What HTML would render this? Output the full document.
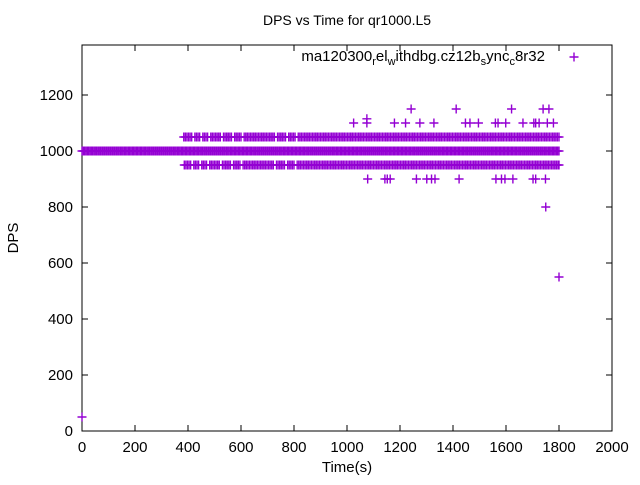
<!DOCTYPE html>
<html><head><meta charset="utf-8"><style>
body{margin:0;background:#fff}
svg text{font-family:"Liberation Sans",sans-serif;fill:#000}
</style></head><body>
<svg id="chart" width="640" height="480" viewBox="0 0 640 480" xmlns="http://www.w3.org/2000/svg">
<rect width="640" height="480" fill="#fff"/>
<text x="347" y="25" font-size="14" text-anchor="middle">DPS vs Time for qr1000.L5</text>
<text x="347" y="472" font-size="15" text-anchor="middle">Time(s)</text>
<text x="18" y="238" font-size="15" text-anchor="middle" transform="rotate(-90 18 238)">DPS</text>
<g id="axes"></g>
<g id="marks"></g>
<text x="545" y="61" font-size="15" text-anchor="end">ma120300<tspan font-size="11" dy="4">r</tspan><tspan dy="-4">el</tspan><tspan font-size="11" dy="4">w</tspan><tspan dy="-4">ithdbg.cz12b</tspan><tspan font-size="11" dy="4">s</tspan><tspan dy="-4">ync</tspan><tspan font-size="11" dy="4">c</tspan><tspan dy="-4">8r32</tspan></text>
</svg>
<script>
const xTicks=[0,200,400,600,800,1000,1200,1400,1600,1800,2000];
const yTicks=[0,200,400,600,800,1000,1200];
const mainX=[0,5,10,15,20,25,30,35,40,45,50,55,60,65,70,75,80,85,90,95,100,105,110,115,120,125,130,135,140,145,150,155,160,165,170,175,180,185,190,195,200,205,210,215,220,225,230,235,240,245,250,255,260,265,270,275,280,285,290,295,300,305,310,315,320,325,330,335,340,345,350,355,360,365,370,375,380,385,390,395,400,405,410,415,420,425,430,435,440,445,450,455,460,465,470,475,480,485,490,495,500,505,510,515,520,525,530,535,540,545,550,555,560,565,570,575,580,585,590,595,600,605,610,615,620,625,630,635,640,645,650,655,660,665,670,675,680,685,690,695,700,705,710,715,720,725,730,735,740,745,750,755,760,765,770,775,780,785,790,795,800,805,810,815,820,825,830,835,840,845,850,855,860,865,870,875,880,885,890,895,900,905,910,915,920,925,930,935,940,945,950,955,960,965,970,975,980,985,990,995,1000,1005,1010,1015,1020,1025,1030,1035,1040,1045,1050,1055,1060,1065,1070,1075,1080,1085,1090,1095,1100,1105,1110,1115,1120,1125,1130,1135,1140,1145,1150,1155,1160,1165,1170,1175,1180,1185,1190,1195,1200,1205,1210,1215,1220,1225,1230,1235,1240,1245,1250,1255,1260,1265,1270,1275,1280,1285,1290,1295,1300,1305,1310,1315,1320,1325,1330,1335,1340,1345,1350,1355,1360,1365,1370,1375,1380,1385,1390,1395,1400,1405,1410,1415,1420,1425,1430,1435,1440,1445,1450,1455,1460,1465,1470,1475,1480,1485,1490,1495,1500,1505,1510,1515,1520,1525,1530,1535,1540,1545,1550,1555,1560,1565,1570,1575,1580,1585,1590,1595,1600,1605,1610,1615,1620,1625,1630,1635,1640,1645,1650,1655,1660,1665,1670,1675,1680,1685,1690,1695,1700,1705,1710,1715,1720,1725,1730,1735,1740,1745,1750,1755,1760,1765,1770,1775,1780,1785,1790,1795,1800];
const mainY=1000;
const hiX=[384,390,396,402,408,414,426,432,438,444,456,462,468,474,486,492,498,504,510,516,522,534,540,546,552,558,564,576,582,588,594,600,612,618,624,630,636,642,648,654,660,666,672,678,684,690,696,702,708,714,720,726,738,744,750,756,762,768,780,786,792,798,804,816,822,828,834,840,846,852,858,864,870,876,882,888,894,900,906,912,918,924,930,936,942,948,954,960,966,972,978,984,990,996,1002,1008,1014,1020,1026,1032,1038,1044,1050,1056,1062,1068,1074,1080,1086,1092,1098,1104,1110,1116,1122,1128,1134,1140,1146,1152,1158,1164,1170,1176,1182,1188,1194,1200,1206,1212,1218,1224,1230,1236,1242,1248,1254,1260,1266,1272,1278,1284,1290,1296,1302,1308,1314,1320,1326,1332,1338,1344,1350,1356,1362,1368,1374,1380,1386,1392,1398,1404,1410,1416,1422,1428,1434,1440,1446,1452,1458,1464,1470,1476,1482,1488,1494,1500,1506,1512,1518,1524,1530,1536,1542,1548,1554,1560,1566,1572,1578,1584,1590,1596,1602,1608,1614,1620,1626,1632,1638,1644,1650,1656,1662,1668,1674,1680,1686,1692,1698,1704,1710,1716,1722,1728,1734,1740,1746,1752,1758,1764,1770,1776,1782,1788,1794,1800];
const hiY=1050;
const loX=[386,392,398,404,410,422,428,434,440,452,458,464,470,482,488,494,500,506,512,518,530,536,542,548,554,560,572,578,584,590,596,608,614,620,626,632,638,644,650,656,662,668,674,680,686,692,698,704,710,716,722,734,740,746,752,758,764,776,782,788,794,800,812,818,824,830,836,842,848,854,860,866,872,878,884,890,896,902,908,914,920,926,932,938,944,950,956,962,968,974,980,986,992,998,1004,1010,1016,1022,1028,1034,1040,1046,1052,1058,1064,1070,1076,1082,1088,1094,1100,1106,1112,1118,1124,1130,1136,1142,1148,1154,1160,1166,1172,1178,1184,1190,1196,1202,1208,1214,1220,1226,1232,1238,1244,1250,1256,1262,1268,1274,1280,1286,1292,1298,1304,1310,1316,1322,1328,1334,1340,1346,1352,1358,1364,1370,1376,1382,1388,1394,1400,1406,1412,1418,1424,1430,1436,1442,1448,1454,1460,1466,1472,1478,1484,1490,1496,1502,1508,1514,1520,1526,1532,1538,1544,1550,1556,1562,1568,1574,1580,1586,1592,1598,1604,1610,1616,1622,1628,1634,1640,1646,1652,1658,1664,1670,1676,1682,1688,1694,1700,1706,1712,1718,1724,1730,1736,1742,1748,1754,1760,1766,1772,1778,1784,1790,1796,1800];
const loY=950;
const row1100X=[1025,1075,1179,1221,1275,1328,1447,1464,1496,1560,1570,1599,1664,1705,1712,1725,1756,1779];
const row1100Y=1100;
const row1150X=[1242,1412,1621,1740,1762];
const row1150Y=1150;
const row900X=[1078,1143,1152,1163,1262,1301,1319,1332,1423,1562,1583,1596,1626,1702,1712,1749];
const row900Y=900;
const extraX=[1075,1750,1800,0];
const extraY=[1115,800,550,50];

const L=82,R=612,T=45,B=431;
const X0=0,X1=2000,YPX=0.28;
function sx(v){return L+(v-X0)/(X1-X0)*(R-L);}
function sy(v){return B-v*YPX;}
const NS="http://www.w3.org/2000/svg";
const axes=document.getElementById('axes');
const marks=document.getElementById('marks');
function mk(tag,attrs,parent){const e=document.createElementNS(NS,tag);for(const k in attrs)e.setAttribute(k,attrs[k]);parent.appendChild(e);return e;}
const frame=mk('rect',{x:L,y:T,width:R-L,height:B-T,fill:'none',stroke:'#000','stroke-width':1},axes);


xTicks.forEach(t=>{const x=sx(t);
 mk('line',{x1:x,y1:B,x2:x,y2:B-6,stroke:'#000'},axes);
 mk('line',{x1:x,y1:T,x2:x,y2:T+6,stroke:'#000'},axes);
 const tx=mk('text',{x:x,y:B+21,'font-size':15,'text-anchor':'middle'},axes);tx.textContent=t;
 
 
});
yTicks.forEach(t=>{const y=sy(t);
 mk('line',{x1:L,y1:y,x2:L+6,y2:y,stroke:'#000'},axes);
 mk('line',{x1:R,y1:y,x2:R-6,y2:y,stroke:'#000'},axes);
 const tx=mk('text',{x:L-9,y:y+5,'font-size':15,'text-anchor':'end'},axes);tx.textContent=t;
 
 
});
function plus(px,py,name){
 const p=mk('path',{d:`M${px-4.5},${py}h9M${px},${py-4.5}v9`,stroke:'#9400d3','stroke-width':1.4,fill:'none'},marks);
 
 
}
mainX.forEach(v=>plus(sx(v),sy(mainY),'point-1000'));
hiX.forEach(v=>plus(sx(v),sy(hiY),'point-1050'));
loX.forEach(v=>plus(sx(v),sy(loY),'point-950'));
row1100X.forEach(v=>plus(sx(v),sy(row1100Y),'point-1100'));
row1150X.forEach(v=>plus(sx(v),sy(row1150Y),'point-1150'));
row900X.forEach(v=>plus(sx(v),sy(row900Y),'point-900'));
extraX.forEach((v,i)=>plus(sx(v),sy(extraY[i]),'point-outlier'));
plus(574,57,'legend-marker');
</script>
</body></html>
